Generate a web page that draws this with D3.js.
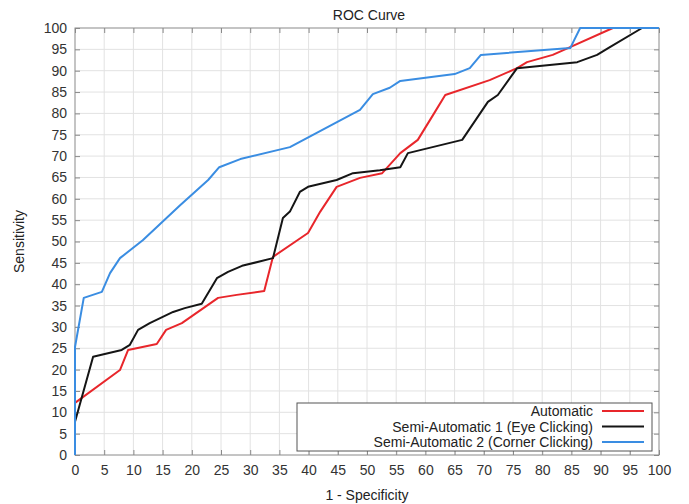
<!DOCTYPE html>
<html>
<head>
<meta charset="utf-8">
<script src="https://cdn.jsdelivr.net/npm/d3@7"></script>
<style>
  body { margin: 0; background: #fff; }
  text { font-family: "Liberation Sans", Arial, sans-serif; }
</style>
</head>
<body>
<div id="chart"></div>
<script>
// ROC curves, x = 1 - specificity (%), y = sensitivity (%)
const automaticX = [0, 0, 7.7, 9.1, 14, 15.6, 18.3, 24.5, 27.7, 32.4, 33.9, 39.9, 42, 44.8, 48.8, 52.6, 55.7, 58.7, 61.3, 63.4, 71, 75.7, 77.4, 81.8, 84.4, 92.1, 100];
const automaticY = [0, 12.2, 19.9, 24.6, 26, 29.3, 30.9, 36.8, 37.5, 38.4, 46.4, 52, 57, 62.8, 64.9, 66, 70.7, 73.8, 79.6, 84.3, 87.8, 90.6, 92, 93.7, 95.3, 100, 100];

const eyeX = [0, 0, 3.1, 8, 9.4, 10.8, 12.8, 16.8, 18.8, 21.7, 24.3, 26.2, 28.6, 33.9, 35.6, 36.8, 38.5, 39.9, 44.8, 47.6, 52.2, 55.7, 57, 66.3, 70.7, 72.4, 75.7, 86, 89.4, 91.3, 97.1, 100];
const eyeY = [0, 7.8, 23, 24.6, 25.8, 29.3, 30.9, 33.5, 34.4, 35.4, 41.4, 42.9, 44.3, 46.1, 55.5, 57, 61.6, 62.8, 64.4, 66, 66.7, 67.4, 70.7, 73.8, 82.7, 84.3, 90.6, 92, 93.7, 95.3, 100, 100];

const cornerX = [0, 0, 1.5, 4.6, 6, 7.7, 11.6, 18, 22.8, 24.7, 28.3, 36.8, 48.8, 51, 53.9, 55.7, 65, 67.6, 69.5, 84.8, 86.5, 100];
const cornerY = [0, 25.3, 36.8, 38.2, 42.6, 46.1, 50.3, 58.5, 64.4, 67.4, 69.3, 72.1, 80.8, 84.5, 86, 87.6, 89.2, 90.6, 93.7, 95.3, 100, 100];

const seriesNames = ["Automatic", "Semi-Automatic 1 (Eye Clicking)", "Semi-Automatic 2 (Corner Clicking)"];
const seriesColors = ["#e8262b", "#151515", "#3a8de2"];
const tickValues = d3.range(0, 101, 5);

const series = [
  { name: seriesNames[0], color: seriesColors[0], pts: automaticX.map((x, i) => [x, automaticY[i]]) },
  { name: seriesNames[1], color: seriesColors[1], pts: eyeX.map((x, i) => [x, eyeY[i]]) },
  { name: seriesNames[2], color: seriesColors[2], pts: cornerX.map((x, i) => [x, cornerY[i]]) }
];

const width = 689, height = 504;
const margin = { top: 28, right: 30, bottom: 49, left: 75 };
const iw = width - margin.left - margin.right;
const ih = height - margin.top - margin.bottom;

const svg = d3.select('#chart').append('svg')
  .attr('width', width)
  .attr('height', height);

const x = d3.scaleLinear().domain([0, 100]).range([0, iw]);
const y = d3.scaleLinear().domain([0, 100]).range([ih, 0]);

const g = svg.append('g').attr('transform', `translate(${margin.left},${margin.top})`);

// grid
g.append('g').selectAll('line').data(tickValues.slice(1, -1)).join('line')
  .attr('x1', d => x(d)).attr('x2', d => x(d)).attr('y1', 0).attr('y2', ih)
  .attr('stroke', '#e2e2e2').attr('stroke-width', 1);
g.append('g').selectAll('line').data(tickValues.slice(1, -1)).join('line')
  .attr('y1', d => y(d)).attr('y2', d => y(d)).attr('x1', 0).attr('x2', iw)
  .attr('stroke', '#e2e2e2').attr('stroke-width', 1);

// axes with inward ticks
const styleAxis = sel => {
  sel.select('.domain').remove();
  sel.selectAll('line').attr('stroke', '#8a8a8a');
  sel.selectAll('text').attr('fill', '#333').style('font-size', '14px');
};
g.append('g').attr('transform', `translate(0,${ih})`)
  .call(d3.axisBottom(x).tickValues(tickValues).tickSizeInner(-5).tickSizeOuter(0).tickPadding(10))
  .call(styleAxis);
g.append('g')
  .call(d3.axisLeft(y).tickValues(tickValues).tickSizeInner(-5).tickSizeOuter(0).tickPadding(8))
  .call(styleAxis);
g.append('g')
  .call(d3.axisTop(x).tickValues(tickValues).tickSizeInner(-5).tickSizeOuter(0).tickFormat(''))
  .call(styleAxis);
g.append('g').attr('transform', `translate(${iw},0)`)
  .call(d3.axisRight(y).tickValues(tickValues).tickSizeInner(-5).tickSizeOuter(0).tickFormat(''))
  .call(styleAxis);

g.append('rect').attr('width', iw).attr('height', ih)
  .attr('fill', 'none').attr('stroke', '#8a8a8a').attr('stroke-width', 1);

// curves
const line = d3.line().x(d => x(d[0])).y(d => y(d[1]));
g.selectAll('.curve').data(series).join('path')
  .attr('class', 'curve')
  .attr('d', d => line(d.pts))
  .attr('fill', 'none')
  .attr('stroke', d => d.color)
  .attr('stroke-width', 2)
  .attr('stroke-linejoin', 'round');

// legend
const lg = g.append('g').attr('transform', `translate(222,${ih - 52})`);
lg.append('rect').attr('width', 355).attr('height', 48)
  .attr('fill', '#fff').attr('stroke', '#555').attr('stroke-width', 1);
series.forEach((s, i) => {
  const ly = 8 + i * 15.5;
  lg.append('text').attr('x', 296).attr('y', ly + 5)
    .attr('text-anchor', 'end').attr('fill', '#222').style('font-size', '14px')
    .text(s.name);
  lg.append('line').attr('x1', 305).attr('x2', 347).attr('y1', ly).attr('y2', ly)
    .attr('stroke', s.color).attr('stroke-width', 2);
});

// titles
svg.append('text').attr('x', margin.left + iw / 2 + 2).attr('y', 20)
  .attr('text-anchor', 'middle').attr('fill', '#222').style('font-size', '14px')
  .text('ROC Curve');
svg.append('text').attr('x', margin.left + iw / 2).attr('y', 500)
  .attr('text-anchor', 'middle').attr('fill', '#222').style('font-size', '14px')
  .text('1 - Specificity');
svg.append('text')
  .attr('transform', `translate(24,${margin.top + ih / 2}) rotate(-90)`)
  .attr('text-anchor', 'middle').attr('fill', '#222').style('font-size', '14px')
  .text('Sensitivity');
</script>
</body>
</html>
